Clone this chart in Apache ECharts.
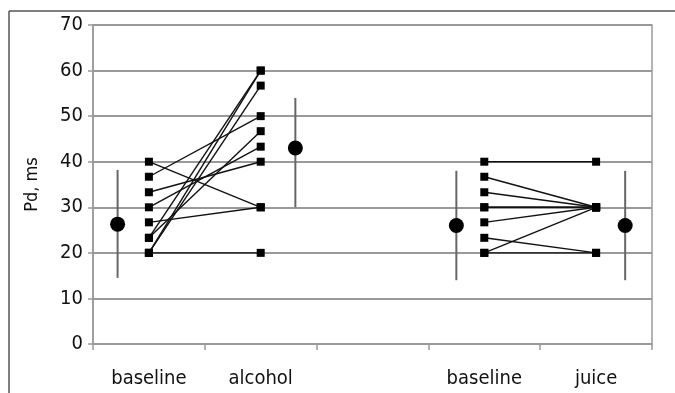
<!DOCTYPE html>
<html>
<head>
<meta charset="utf-8">
<script src="https://cdn.jsdelivr.net/npm/echarts@6/dist/echarts.min.js"></script>
<style>html,body{margin:0;padding:0;background:#fff;}#c{width:675px;height:393px;}</style>
</head>
<body>
<div id="c"></div>
<script>
const categories = ['baseline', 'alcohol', '', 'baseline', 'juice'];
const alcoholBaseline = [20, 20, 20, 23.3, 23.3, 26.7, 30, 33.3, 36.7, 40];
const alcoholAfter    = [20, 60, 56.7, 60, 46.7, 30, 43.3, 40, 50, 30];
const juiceBaseline = [40, 36.7, 33.3, 30, 30, 26.7, 23.3, 20, 20];
const juiceAfter    = [40, 30, 30, 30, 30, 30, 20, 30, 20];
const alcoholGroupX = [0.5, 1.5];
const juiceGroupX = [3.5, 4.5];
const meanX    = [0.22, 1.81, 3.25, 4.76];
const meanVals = [26.3, 43, 26, 26];
const meanLow  = [14.5, 30, 14, 14];
const meanHigh = [38.2, 54, 38, 38];

const FONT = '"DejaVu Sans Condensed", "Liberation Sans Narrow", sans-serif';

const series = [];
function addPairs(b, a, gx) {
  for (let i = 0; i < b.length; i++) {
    series.push({
      type: 'line', xAxisIndex: 1, yAxisIndex: 0,
      data: [[gx[0], b[i]], [gx[1], a[i]]],
      symbol: 'rect', symbolSize: 8, showSymbol: true,
      lineStyle: { color: '#111', width: 1.4 },
      itemStyle: { color: '#000', opacity: 1 },
      z: 5, silent: true, animation: false
    });
  }
}
addPairs(alcoholBaseline, alcoholAfter, alcoholGroupX);
addPairs(juiceBaseline, juiceAfter, juiceGroupX);

series.push({
  type: 'custom', xAxisIndex: 1, yAxisIndex: 0,
  data: meanX.map((x, i) => [x, meanLow[i], meanHigh[i]]),
  renderItem: function (params, api) {
    const p1 = api.coord([api.value(0), api.value(1)]);
    const p2 = api.coord([api.value(0), api.value(2)]);
    return { type: 'line', shape: { x1: p1[0], y1: p1[1], x2: p2[0], y2: p2[1] },
             style: { stroke: '#666', lineWidth: 2 } };
  },
  z: 3, silent: true, animation: false
});
series.push({
  type: 'scatter', xAxisIndex: 1, yAxisIndex: 0,
  data: meanX.map((x, i) => [x, meanVals[i]]),
  symbol: 'circle', symbolSize: 15,
  itemStyle: { color: '#000', opacity: 1 }, z: 6, silent: true, animation: false
});

const chart = echarts.init(document.getElementById('c'), null, { renderer: 'canvas' });
chart.setOption({
  animation: false,
  backgroundColor: '#fff',
  grid: { left: 93, right: 23, top: 25, bottom: 49, show: true, borderColor: '#999', borderWidth: 1.5 },
  xAxis: [
    {
      type: 'category', data: categories, boundaryGap: true, position: 'bottom',
      axisLine: { show: true, lineStyle: { color: '#999', width: 1.5 } },
      axisTick: { show: true, alignWithLabel: false, length: 6, lineStyle: { color: '#999', width: 1.5 } },
      axisLabel: { color: '#111', fontFamily: FONT, fontSize: 20, margin: 25 },
      splitLine: { show: false }
    },
    { type: 'value', min: 0, max: 5, show: false, splitLine: { show: false } }
  ],
  yAxis: [{
    type: 'value', min: 0, max: 70, interval: 10,
    name: 'Pd, ms', nameLocation: 'middle', nameGap: 52, nameRotate: 90,
    nameTextStyle: { color: '#111', fontFamily: FONT, fontSize: 18 },
    axisLine: { show: true, lineStyle: { color: '#999', width: 1.5 } },
    axisTick: { show: true, length: 5, lineStyle: { color: '#999', width: 1.5 } },
    axisLabel: { color: '#111', fontFamily: FONT, fontSize: 20, margin: 10 },
    splitLine: { show: true, lineStyle: { color: '#999', width: 2 } }
  }],
  graphic: [
    { type: 'line', shape: { x1: 9, y1: 11, x2: 9, y2: 393 }, style: { stroke: '#555', lineWidth: 1.5 } },
    { type: 'line', shape: { x1: 9, y1: 11, x2: 675, y2: 11 }, style: { stroke: '#555', lineWidth: 1.5 } }
  ],
  series: series
});
</script>
</body>
</html>
